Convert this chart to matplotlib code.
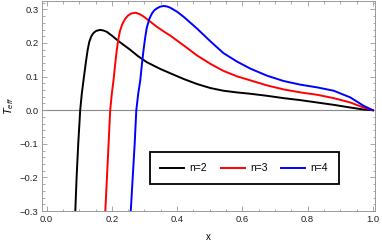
import numpy as np
import matplotlib
matplotlib.use('Agg')
import matplotlib.pyplot as plt
from matplotlib.ticker import MultipleLocator

plt.rcParams['font.family'] = ['Liberation Sans', 'DejaVu Sans']
plt.rcParams['mathtext.fontset'] = 'custom'
plt.rcParams['mathtext.it'] = 'Liberation Sans:italic'
plt.rcParams['mathtext.rm'] = 'Liberation Sans'

# values
x_n2 = [0.088, 0.092, 0.097, 0.103, 0.108, 0.113, 0.121, 0.126, 0.131, 0.137, 0.144,
        0.152, 0.164, 0.175, 0.185, 0.200, 0.215, 0.235, 0.256, 0.280, 0.307, 0.348,
        0.379, 0.42, 0.461, 0.502, 0.542, 0.583, 0.624, 0.675, 0.726, 0.778, 0.829,
        0.88, 0.931, 0.972, 1.0]
y_n2 = [-0.3, -0.2, -0.1, 0.0, 0.05, 0.088, 0.147, 0.180, 0.204, 0.220, 0.230,
        0.236, 0.239, 0.237, 0.233, 0.222, 0.210, 0.195, 0.180, 0.161, 0.143, 0.123,
        0.110, 0.093, 0.078, 0.066, 0.058, 0.053, 0.049, 0.043, 0.036, 0.030, 0.023,
        0.016, 0.008, 0.002, 0.0]

x_n3 = [0.180, 0.185, 0.190, 0.195, 0.200, 0.205, 0.210, 0.215, 0.220, 0.225, 0.232,
        0.241, 0.250, 0.260, 0.273, 0.285, 0.297, 0.317, 0.337, 0.358, 0.379, 0.42,
        0.461, 0.502, 0.542, 0.583, 0.624, 0.675, 0.726, 0.778, 0.829, 0.88, 0.931,
        0.972, 1.0]
y_n3 = [-0.3, -0.2, -0.1, 0.0, 0.05, 0.088, 0.135, 0.178, 0.212, 0.236, 0.256,
        0.272, 0.282, 0.288, 0.290, 0.286, 0.279, 0.264, 0.249, 0.235, 0.222, 0.193,
        0.163, 0.138, 0.117, 0.101, 0.089, 0.074, 0.062, 0.053, 0.046, 0.036, 0.023,
        0.008, 0.0]

x_n4 = [0.258, 0.264, 0.270, 0.275, 0.281, 0.287, 0.292, 0.297, 0.302, 0.307, 0.315,
        0.323, 0.330, 0.338, 0.348, 0.358, 0.368, 0.379, 0.40, 0.42, 0.44, 0.461,
        0.502, 0.542, 0.583, 0.624, 0.675, 0.726, 0.778, 0.829, 0.88, 0.931, 0.972,
        1.0]
y_n4 = [-0.3, -0.2, -0.1, 0.0, 0.05, 0.088, 0.135, 0.178, 0.215, 0.245, 0.272,
        0.288, 0.297, 0.303, 0.308, 0.310, 0.309, 0.305, 0.293, 0.278, 0.261, 0.243,
        0.205, 0.170, 0.145, 0.124, 0.103, 0.087, 0.076, 0.068, 0.058, 0.038, 0.013,
        0.0]

labels = ['n=2', 'n=3', 'n=4']
colors = ['black', 'red', 'blue']

fig = plt.figure(figsize=(3.82, 2.44), dpi=100)
ax = fig.add_axes([0.11, 0.135, 0.872, 0.861])

ax.axhline(0, color='#888888', lw=0.8, zorder=1)
for xs, ys, lab, col in zip([x_n2, x_n3, x_n4], [y_n2, y_n3, y_n4], labels, colors):
    ax.plot(xs, ys, color=col, lw=1.4, label=lab, zorder=3)

ax.set_xlim(-0.014, 1.007)
ax.set_ylim(-0.3, 0.325)
ax.xaxis.set_major_locator(MultipleLocator(0.2))
ax.xaxis.set_minor_locator(MultipleLocator(0.05))
ax.yaxis.set_major_locator(MultipleLocator(0.1))
ax.yaxis.set_minor_locator(MultipleLocator(0.02))

for sp in ax.spines.values():
    sp.set_color('#999999')
    sp.set_linewidth(0.7)
ax.tick_params(which='both', direction='in', top=True, right=True,
               color='#999999', labelsize=6.8, labelcolor='#222222', width=0.6)
ax.tick_params(which='major', length=3.5, pad=2.5)
ax.tick_params(which='minor', length=1.8)

ax.set_xlabel('x', fontsize=7, labelpad=6)
ax.set_ylabel(r'$T_{eff}$', fontsize=8, labelpad=3)

lgnd = ax.legend(loc='center', bbox_to_anchor=(0.639, 0.31),
                 bbox_transform=fig.transFigure, ncol=3, fontsize=7.5,
                 fancybox=False, framealpha=1, edgecolor='black',
                 handlelength=2.3, columnspacing=1.3, handletextpad=0.5,
                 borderpad=1.05)
lgnd.get_frame().set_linewidth(1.3)

fig.savefig('out.png', dpi=100)
